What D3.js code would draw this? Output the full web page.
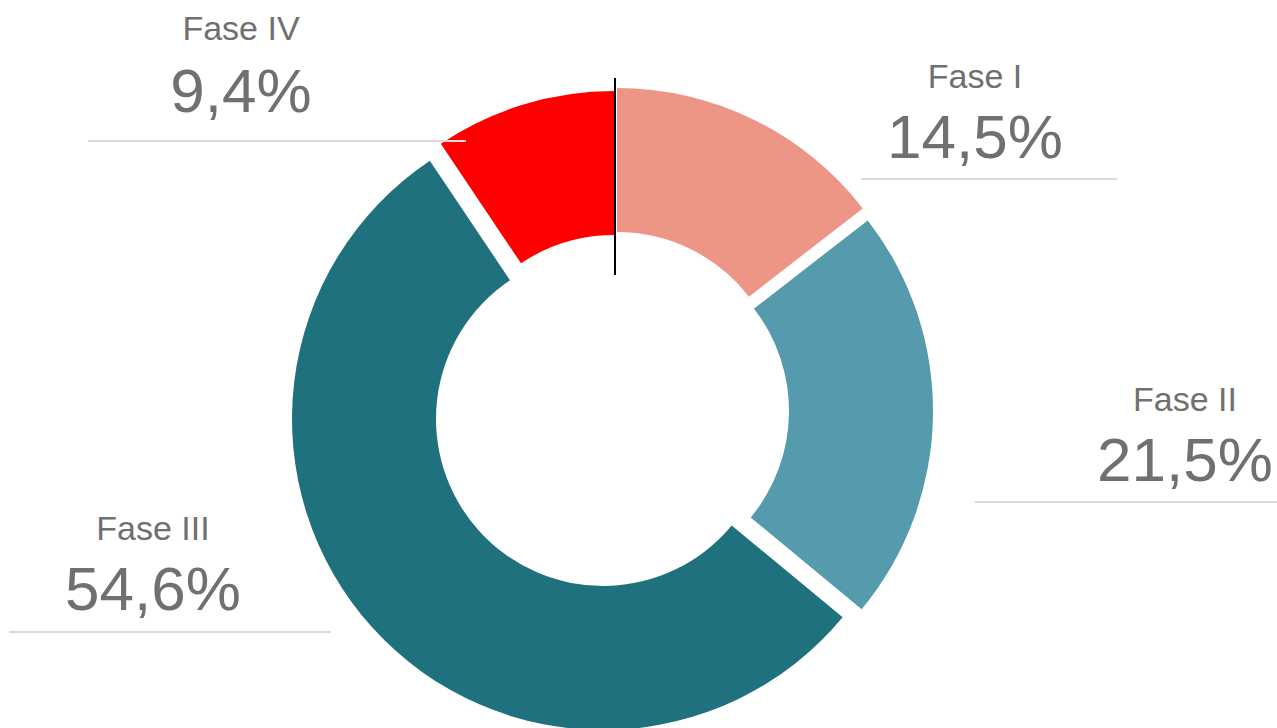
<!DOCTYPE html>
<html>
<head>
<meta charset="utf-8">
<script src="https://cdn.jsdelivr.net/npm/d3@7"></script>
<style>
  body { margin: 0; background: #fff; }
  svg { display: block; font-family: "Liberation Sans", Arial, sans-serif; }
</style>
</head>
<body>
<div id="chart"></div>
<script>
// data
const phases = ["Fase I", "Fase II", "Fase III", "Fase IV"];
const shares = [14.5, 21.5, 54.6, 9.4];
const colors = ["#ee9686", "#559bad", "#1f717e", "#ff0000"];

// how far each slice is pulled out of the ring, [dx, dy] in px
const explode = [[5, -11], [10, 1], [-9, 9], [2, -8]];

// label layout: centre x, y of the rule under the label, rule x extent, gaps
const labelPos = [
  { x: 975,  line: 179, x0: 861, x1: 1117, nameGap: 91,  valGap: 21 },
  { x: 1185, line: 502, x0: 975, x1: 1277, nameGap: 91,  valGap: 21 },
  { x: 153,  line: 632, x0: 9,   x1: 331,  nameGap: 92,  valGap: 22 },
  { x: 241,  line: 141, x0: 88,  x1: 466,  nameGap: 101, valGap: 29 }
];

const width = 1277;
const height = 728;
const cx = 612, cy = 410;
const outerR = 311, innerR = 167;

const svg = d3.select("#chart")
  .append("svg")
  .attr("width", width)
  .attr("height", height);

const pie = d3.pie().sort(null).value(d => d)(shares);
const arc = d3.arc().innerRadius(innerR).outerRadius(outerR);

const g = svg.append("g").attr("transform", `translate(${cx},${cy})`);

g.selectAll("path")
  .data(pie)
  .join("path")
  .attr("fill", (d, i) => colors[i])
  .attr("transform", (d, i) => `translate(${explode[i][0]},${explode[i][1]})`)
  .attr("d", arc);

// thin black marker at the start of the ring
svg.append("line")
  .attr("x1", 615).attr("x2", 615)
  .attr("y1", 78).attr("y2", 275)
  .attr("stroke", "#000")
  .attr("stroke-width", 2);

const fmt = v => d3.format(".1f")(v).replace(".", ",") + "%";

const labels = svg.selectAll(".lbl")
  .data(phases)
  .join("g")
  .attr("class", "lbl");

labels.append("line")
  .attr("x1", (d, i) => labelPos[i].x0)
  .attr("x2", (d, i) => labelPos[i].x1)
  .attr("y1", (d, i) => labelPos[i].line)
  .attr("y2", (d, i) => labelPos[i].line)
  .attr("stroke", "#d9d9d9")
  .attr("stroke-width", 2);

labels.append("text")
  .attr("x", (d, i) => labelPos[i].x)
  .attr("y", (d, i) => labelPos[i].line - labelPos[i].nameGap)
  .attr("text-anchor", "middle")
  .attr("fill", "#707070")
  .attr("font-size", "34px")
  .text(d => d);

labels.append("text")
  .attr("x", (d, i) => labelPos[i].x)
  .attr("y", (d, i) => labelPos[i].line - labelPos[i].valGap)
  .attr("text-anchor", "middle")
  .attr("fill", "#707070")
  .attr("font-size", "62px")
  .text((d, i) => fmt(shares[i]));
</script>
</body>
</html>
